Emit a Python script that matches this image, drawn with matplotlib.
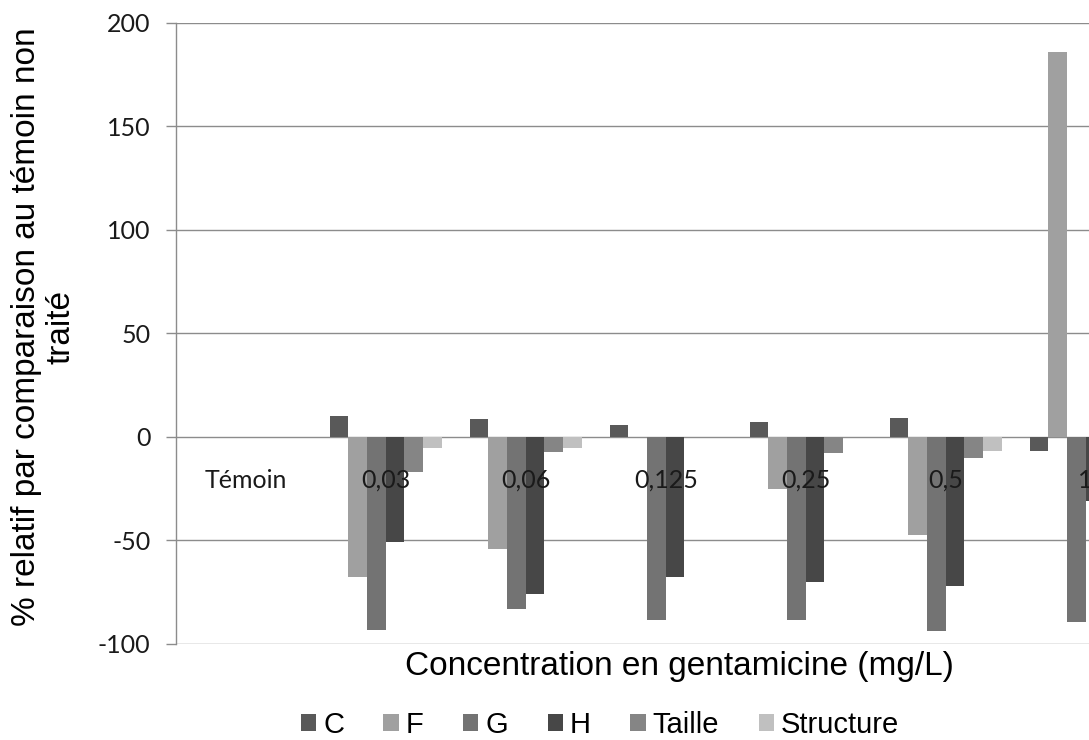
import matplotlib
matplotlib.use("Agg")
import matplotlib.pyplot as plt
from matplotlib.patches import Patch
import numpy as np

categories = ["Témoin", "0,03", "0,06", "0,125", "0,25", "0,5", "1"]
series_names = ["C", "F", "G", "H", "Taille", "Structure"]
C_vals = [0, 10.0, 8.7, 5.6, 7.1, 8.9, -7.1]
F_vals = [0, -67.6, -54.3, 0, -25.0, -47.4, 185.9]
G_vals = [0, -93.4, -83.4, -88.4, -88.7, -93.8, -89.7]
H_vals = [0, -51.0, -75.8, -67.8, -70.4, -72.0, -31.1]
Taille_vals = [0, -17.0, -7.2, 0, -7.7, -10.2, -10.0]
Structure_vals = [0, -5.3, -5.3, 0, 0, -7.1, -5.0]
yticks = [-100, -50, 0, 50, 100, 150, 200]

series_values = [C_vals, F_vals, G_vals, H_vals, Taille_vals, Structure_vals]
colors = ["#595959", "#A0A0A0", "#737373", "#474747", "#858585", "#C0C0C0"]

W, H = 1089, 740
fig = plt.figure(figsize=(W / 100, H / 100), dpi=100)
ax = fig.add_axes([175.7 / W, 1 - 643.7 / H, 980 / W, (643.7 - 23) / H])

x = np.arange(len(categories))
n = len(series_names)
bw = 0.8 / n
for k, (name, vals, col) in enumerate(zip(series_names, series_values, colors)):
    ax.bar(x + (k - (n - 1) / 2) * bw, vals, width=bw, color=col, label=name,
           linewidth=0, zorder=3)

ax.set_xlim(-0.5, len(categories) - 0.5)
ax.set_ylim(-100, 200)
ax.set_yticks(yticks)
ax.set_yticklabels([str(v) for v in yticks], fontfamily="Lato", fontsize=18, color="#1a1a1a")
ax.yaxis.grid(True, color="#8c8c8c", linewidth=1.0, zorder=0)
ax.set_axisbelow(True)
ax.tick_params(axis="y", length=7.2, width=1.0, color="#8c8c8c", pad=11)
ax.tick_params(axis="x", length=0, labelbottom=False)
for s in ["top", "right", "bottom"]:
    ax.spines[s].set_visible(False)
ax.spines["left"].set_color("#8c8c8c")
ax.spines["left"].set_linewidth(1.0)

# category labels placed just under the zero line
for i, lab in enumerate(categories):
    ax.text(i, -20.9, lab, ha="center", va="center", fontfamily="Lato",
            fontsize=18, color="#1a1a1a", zorder=4)

ax.set_xlabel("Concentration en gentamicine (mg/L)", fontfamily="Liberation Sans",
              fontsize=24, color="#000000", va="center")
ax.xaxis.set_label_coords((679 - 175.7) / 980, (643.7 - 667) / 620.7)
ax.set_ylabel("% relatif par comparaison au témoin non\ntraité", fontfamily="Liberation Sans",
              fontsize=24, color="#000000", va="center", linespacing=1.15)
ax.yaxis.set_label_coords((44 - 175.7) / 980, (643.7 - 327) / 620.7)

handles = [Patch(facecolor=c, edgecolor="none", label=nm) for nm, c in zip(series_names, colors)]
fig.legend(handles=handles, loc="center", bbox_to_anchor=(600 / W, 1 - 725 / H), ncol=6,
           frameon=False, prop={"family": "Liberation Sans", "size": 21},
           handlelength=0.52, handleheight=0.52, handletextpad=0.25, columnspacing=1.35,
           borderaxespad=0, borderpad=0)

fig.savefig("out.png", dpi=100)
